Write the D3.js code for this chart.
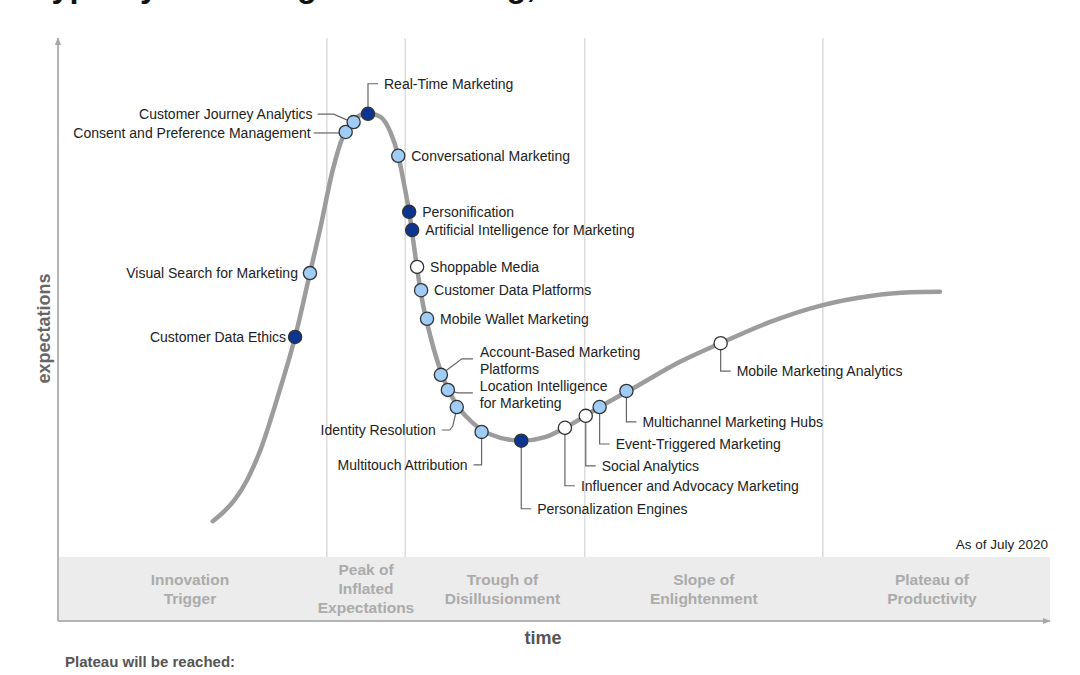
<!DOCTYPE html>
<html>
<head>
<meta charset="utf-8">
<script src="https://cdn.jsdelivr.net/npm/d3@7"></script>
<style>
  body { margin: 0; background: #fff; }
  svg { display: block; font-family: "Liberation Sans", Arial, sans-serif; }
</style>
</head>
<body>
<div id="chart"></div>
<script>
// hype cycle: time (0-100) on x, expectations (0-100) on y

const title = 'Hype Cycle for Digital Marketing, 2020';

// phases along the time axis
const phaseNames = [
  ['Innovation', 'Trigger'],
  ['Peak of', 'Inflated', 'Expectations'],
  ['Trough of', 'Disillusionment'],
  ['Slope of', 'Enlightenment'],
  ['Plateau of', 'Productivity']
];
const phaseBounds = [0, 27.1, 35.0, 53.1, 77.1, 100];
const phaseLabelTime = [13.3, 31.05, 44.8, 65.1, 88.1];

// the hype curve
const curveTime = [15.6, 16.7, 17.8, 19.05, 20.4, 22.2, 23.9, 25.4, 26.4, 27.7, 28.7, 29.9, 31.25, 32.5, 33.5,
  34.3, 34.9, 35.4, 35.8, 36.3, 36.8, 37.5, 38.2, 39.0, 40.2, 41.5, 43.5, 46.7, 49.1, 51.1, 54.6, 58.7,
  62.7, 66.8, 71.8, 76.8, 81.9, 85.9, 88.9];
const curveExp = [6.9, 8.7, 11.0, 14.8, 20.6, 31.2, 42.4, 54.7, 63.0, 74.6, 80.9, 84.4, 85.5, 84.8, 81.9,
  77.3, 71.7, 66.5, 61.1, 54.3, 48.6, 42.8, 38.0, 33.7, 29.3, 26.4, 23.7, 22.4, 23.1, 24.9, 28.9, 33.3,
  37.6, 41.2, 45.3, 48.4, 50.3, 51.0, 51.1];

// technologies on the curve
const techNames = [
  'Customer Data Ethics', 'Visual Search for Marketing', 'Consent and Preference Management',
  'Customer Journey Analytics', 'Real-Time Marketing', 'Conversational Marketing', 'Personification',
  'Artificial Intelligence for Marketing', 'Shoppable Media', 'Customer Data Platforms',
  'Mobile Wallet Marketing', 'Account-Based Marketing Platforms', 'Location Intelligence for Marketing',
  'Identity Resolution', 'Multitouch Attribution', 'Personalization Engines',
  'Influencer and Advocacy Marketing', 'Social Analytics', 'Event-Triggered Marketing',
  'Multichannel Marketing Hubs', 'Mobile Marketing Analytics'
];
const techTime = [23.9, 25.4, 29.0, 29.8, 31.25, 34.3, 35.4, 35.7, 36.2, 36.6, 37.2, 38.6, 39.3, 40.2,
  42.7, 46.7, 51.1, 53.2, 54.6, 57.3, 66.8];
const techExp = [42.4, 54.7, 81.9, 83.8, 85.4, 77.3, 66.5, 63.0, 55.9, 51.4, 45.9, 35.1, 32.2, 28.9,
  24.1, 22.4, 24.9, 27.2, 28.9, 32.0, 41.2];
// years to plateau group: 'a' dark, 'b' light, 'c' white
const techGroup = ['a', 'b', 'b', 'b', 'a', 'b', 'a', 'a', 'c', 'b', 'b', 'b', 'b', 'b', 'b', 'a',
  'c', 'c', 'b', 'b', 'c'];

const groupFill = { a: '#0b3590', b: '#9fcdf7', c: '#ffffff' };

// label placement (pixel offsets from the dot)
const labelLayout = [
  { kind: 'left', dx: -9 },
  { kind: 'left', dx: -12 },
  { kind: 'leader', pts: [[-32, 1], [-6, 1]], tx: -35, ty: 1, anchor: 'end' },
  { kind: 'leader', pts: [[-36, -8], [-20, -8], [-4, -1]], tx: -41, ty: -8, anchor: 'end' },
  { kind: 'leader', pts: [[0, -6], [0, -30], [10, -30]], tx: 16, ty: -30, anchor: 'start' },
  { kind: 'right' }, { kind: 'right' }, { kind: 'right' }, { kind: 'right' },
  { kind: 'right' }, { kind: 'right' },
  { kind: 'leader', pts: [[5, -4], [21, -16], [32, -16]], tx: 39, ty: -23, anchor: 'start',
    lines: ['Account-Based Marketing', 'Platforms'] },
  { kind: 'leader', pts: [[6, 2], [10, 3], [25, 3]], tx: 32, ty: -4, anchor: 'start',
    lines: ['Location Intelligence', 'for Marketing'] },
  { kind: 'leader', pts: [[-1, 6], [-4, 19], [-7, 23], [-15, 23]], tx: -21, ty: 23, anchor: 'end' },
  { kind: 'leader', pts: [[0, 6], [0, 33], [-8, 33]], tx: -14, ty: 33, anchor: 'end' },
  { kind: 'down', len: 68 },
  { kind: 'down', len: 58 },
  { kind: 'down', len: 50 },
  { kind: 'down', len: 37 },
  { kind: 'down', len: 31 },
  { kind: 'down', len: 28 }
];

const W = 1080, H = 675;
const plot = { left: 58, right: 1050, top: 38, bandTop: 557, bottom: 621 };

const svg = d3.select('#chart').append('svg')
  .attr('width', W)
  .attr('height', H);

const x = d3.scaleLinear().domain([0, 100]).range([plot.left, plot.right]);
const y = d3.scaleLinear().domain([0, 100]).range([plot.bandTop, plot.top]);

// title, mostly cut off at the top edge as in the source
svg.append('text')
  .attr('x', 28)
  .attr('y', -3.5)
  .attr('font-size', 32.5)
  .attr('font-weight', 'bold')
  .attr('fill', '#111')
  .text(title);

// phase band
svg.append('rect')
  .attr('x', plot.left)
  .attr('y', plot.bandTop)
  .attr('width', plot.right - plot.left)
  .attr('height', plot.bottom - plot.bandTop)
  .attr('fill', '#ececec');

// phase separators
svg.selectAll('.sep')
  .data(phaseBounds.slice(1, -1))
  .enter()
  .append('line')
  .attr('class', 'sep')
  .attr('x1', d => x(d))
  .attr('x2', d => x(d))
  .attr('y1', plot.top)
  .attr('y2', plot.bandTop)
  .attr('stroke', '#dcdcdc')
  .attr('stroke-width', 1.5);

// phase labels
phaseNames.forEach((lines, i) => {
  const cx = x(phaseLabelTime[i]);
  const cy = (plot.bandTop + plot.bottom) / 2;
  const lh = 19;
  lines.forEach((line, j) => {
    svg.append('text')
      .attr('x', cx)
      .attr('y', cy + (j - (lines.length - 1) / 2) * lh)
      .attr('dy', '0.35em')
      .attr('text-anchor', 'middle')
      .attr('font-size', 15.5)
      .attr('font-weight', 'bold')
      .attr('fill', '#ababab')
      .text(line);
  });
});

// axes with arrows
const defs = svg.append('defs');
defs.append('marker')
  .attr('id', 'arrow')
  .attr('viewBox', '0 0 10 10')
  .attr('refX', 9)
  .attr('refY', 5)
  .attr('markerWidth', 4)
  .attr('markerHeight', 4)
  .attr('orient', 'auto')
  .append('path')
  .attr('d', 'M0,1 L10,5 L0,9 Z')
  .attr('fill', '#a8a8a8');

svg.append('line')
  .attr('x1', plot.left).attr('y1', plot.bottom)
  .attr('x2', plot.left).attr('y2', plot.top)
  .attr('stroke', '#b4b4b4')
  .attr('stroke-width', 2)
  .attr('marker-end', 'url(#arrow)');

svg.append('line')
  .attr('x1', plot.left).attr('y1', plot.bottom)
  .attr('x2', plot.right).attr('y2', plot.bottom)
  .attr('stroke', '#b4b4b4')
  .attr('stroke-width', 2)
  .attr('marker-end', 'url(#arrow)');

// axis titles
svg.append('text')
  .attr('transform', `translate(44,${(plot.top + plot.bandTop) / 2 + 31}) rotate(-90)`)
  .attr('text-anchor', 'middle')
  .attr('dy', '0.35em')
  .attr('font-size', 18)
  .attr('font-weight', 'bold')
  .attr('fill', '#666')
  .text('expectations');

svg.append('text')
  .attr('x', 543)
  .attr('y', 644)
  .attr('text-anchor', 'middle')
  .attr('font-size', 18)
  .attr('font-weight', 'bold')
  .attr('fill', '#555')
  .text('time');

svg.append('text')
  .attr('x', 1048)
  .attr('y', 549)
  .attr('text-anchor', 'end')
  .attr('font-size', 13.5)
  .attr('fill', '#222')
  .text('As of July 2020');

svg.append('text')
  .attr('x', 65)
  .attr('y', 667)
  .attr('font-size', 15)
  .attr('font-weight', 'bold')
  .attr('fill', '#555')
  .text('Plateau will be reached:');

// hype curve
const curvePts = curveTime.map((t, i) => [t, curveExp[i]]);
const line = d3.line()
  .x(d => x(d[0]))
  .y(d => y(d[1]))
  .curve(d3.curveMonotoneX);

svg.append('path')
  .datum(curvePts)
  .attr('d', line)
  .attr('fill', 'none')
  .attr('stroke', '#9c9c9c')
  .attr('stroke-width', 4.5)
  .attr('stroke-linecap', 'round');

// leader lines and labels
const techs = techNames.map((name, i) => ({
  name, px: x(techTime[i]), py: y(techExp[i]), group: techGroup[i], layout: labelLayout[i]
}));

const leaders = svg.append('g')
  .attr('fill', 'none')
  .attr('stroke', '#666')
  .attr('stroke-width', 1.2);

const labels = svg.append('g')
  .attr('font-size', 14)
  .attr('fill', '#222');

techs.forEach(d => {
  const L = d.layout;
  let pts = null, tx, ty, anchor;
  const lines = L.lines || [d.name];
  if (L.kind === 'right') {
    tx = d.px + 13; ty = d.py; anchor = 'start';
  } else if (L.kind === 'left') {
    tx = d.px + L.dx; ty = d.py; anchor = 'end';
  } else if (L.kind === 'down') {
    pts = [[0, 6], [0, L.len], [10, L.len]];
    tx = d.px + 16; ty = d.py + L.len; anchor = 'start';
  } else {
    pts = L.pts;
    tx = d.px + L.tx; ty = d.py + L.ty; anchor = L.anchor;
  }
  if (pts) {
    leaders.append('path')
      .attr('d', d3.line()(pts.map(p => [d.px + p[0], d.py + p[1]])));
  }
  lines.forEach((ln, j) => {
    labels.append('text')
      .attr('x', tx)
      .attr('y', ty + j * 17)
      .attr('dy', '0.35em')
      .attr('text-anchor', anchor)
      .text(ln);
  });
});

// dots
svg.append('g')
  .selectAll('circle')
  .data(techs)
  .enter()
  .append('circle')
  .attr('cx', d => d.px)
  .attr('cy', d => d.py)
  .attr('r', 6.6)
  .attr('fill', d => groupFill[d.group])
  .attr('stroke', '#333')
  .attr('stroke-width', 1.3);
</script>
</body>
</html>
